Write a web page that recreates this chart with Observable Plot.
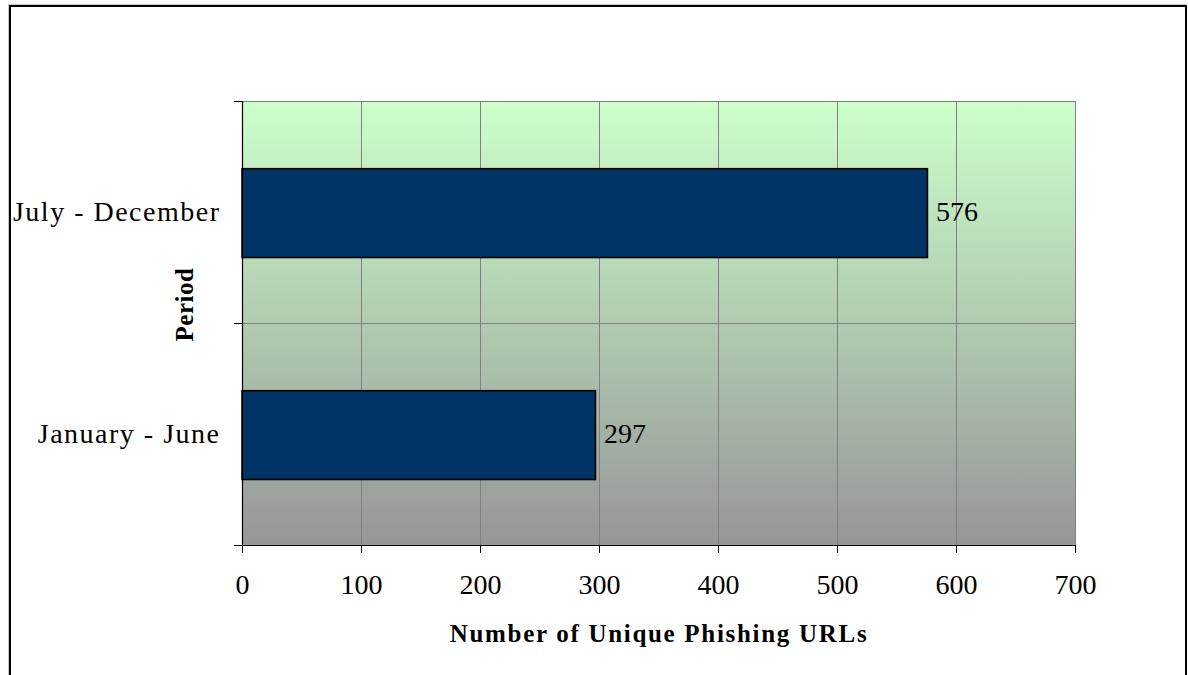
<!DOCTYPE html>
<html>
<head>
<meta charset="utf-8">
<script src="https://cdn.jsdelivr.net/npm/d3@7"></script>
<script src="https://cdn.jsdelivr.net/npm/@observablehq/plot@0.6"></script>
<style>
  html, body { margin: 0; padding: 0; background: #fff; }
  #wrap { position: relative; width: 1188px; height: 675px; overflow: hidden; }
  #border { position: absolute; left: 9px; top: 5px; width: 1174px; height: 720px;
            border: 2px solid #000; box-shadow: -1px -1px 0 #c8c8c8; }
  #chart { position: absolute; left: 0; top: 0; }
  g[aria-label="y-axis tick label"] text { letter-spacing: 1.5px; }
  .xtitle text { letter-spacing: 1.7px; }
  .ytitle text { letter-spacing: 0.5px; }
</style>
</head>
<body>
<div id="wrap"><div id="border"></div><div id="chart"></div></div>
<script>
const categories = ["January - June", "July - December"];
const values = [297, 576];
const xTicks = [0, 100, 200, 300, 400, 500, 600, 700];
const xTitle = "Number of Unique Phishing URLs";
const yTitle = "Period";

const data = categories.map((c, i) => ({category: c, value: values[i], i}));

const serif = "'Liberation Serif', 'Times New Roman', serif";

const plot = Plot.plot({
  width: 1188,
  height: 675,
  marginTop: 101,
  marginBottom: 130,
  marginLeft: 242,
  marginRight: 113,
  style: {fontFamily: serif, fontSize: "28px", color: "#000", background: "transparent", overflow: "visible"},
  x: {domain: [0, 700]},
  y: {domain: [0, categories.length]},
  marks: [
    Plot.frame({fill: "url(#bgGrad)"}),
    Plot.gridX(xTicks, {stroke: "#808080", strokeOpacity: 1}),
    Plot.gridY(d3.range(1, categories.length), {stroke: "#808080", strokeOpacity: 1}),
    Plot.frame({stroke: "#808080"}),
    Plot.rectX(data, {
      x1: 0, x2: "value",
      y1: d => d.i + 0.295, y2: d => d.i + 0.695,
      fill: "#003366", stroke: "#000", strokeWidth: 1.6
    }),
    Plot.text(data, {
      x: "value", y: d => d.i + 0.5, text: d => String(d.value),
      textAnchor: "start", dx: 8, fontSize: 28, fill: "#000"
    }),
    Plot.ruleX([0], {stroke: "#000", strokeWidth: 1.2}),
    Plot.ruleY([0], {stroke: "#000", strokeWidth: 1.2}),
    Plot.axisX({ticks: xTicks, tickSize: 8, tickPadding: 21, fontSize: 28, label: null, stroke: "#000"}),
    Plot.axisY({ticks: d3.range(0, categories.length + 1), tickSize: 8, tickFormat: () => "", label: null}),
    Plot.axisY({ticks: categories.map((c, i) => i + 0.5), tickSize: 0, tickPadding: 22,
                tickFormat: d => categories[Math.round(d - 0.5)], fontSize: 28, label: null}),
    Plot.text([xTitle], {frameAnchor: "bottom", textAnchor: "middle", dy: 96, fontWeight: "bold", fontSize: 25,
                         fill: "#000", text: d => d, className: "xtitle"}),
    Plot.text([yTitle], {frameAnchor: "left", textAnchor: "middle", rotate: -90, dx: -58, dy: -19,
                         fontWeight: "bold", fontSize: 25, fill: "#000", text: d => d, className: "ytitle"})
  ]
});

const svg = d3.select(plot);
const defs = svg.insert("defs", ":first-child");
const grad = defs.append("linearGradient").attr("id", "bgGrad")
  .attr("x1", 0).attr("y1", 0).attr("x2", 0).attr("y2", 1);
grad.append("stop").attr("offset", "0%").attr("stop-color", "#ccffcc");
grad.append("stop").attr("offset", "100%").attr("stop-color", "#969696");

document.getElementById("chart").appendChild(plot);
</script>
</body>
</html>
